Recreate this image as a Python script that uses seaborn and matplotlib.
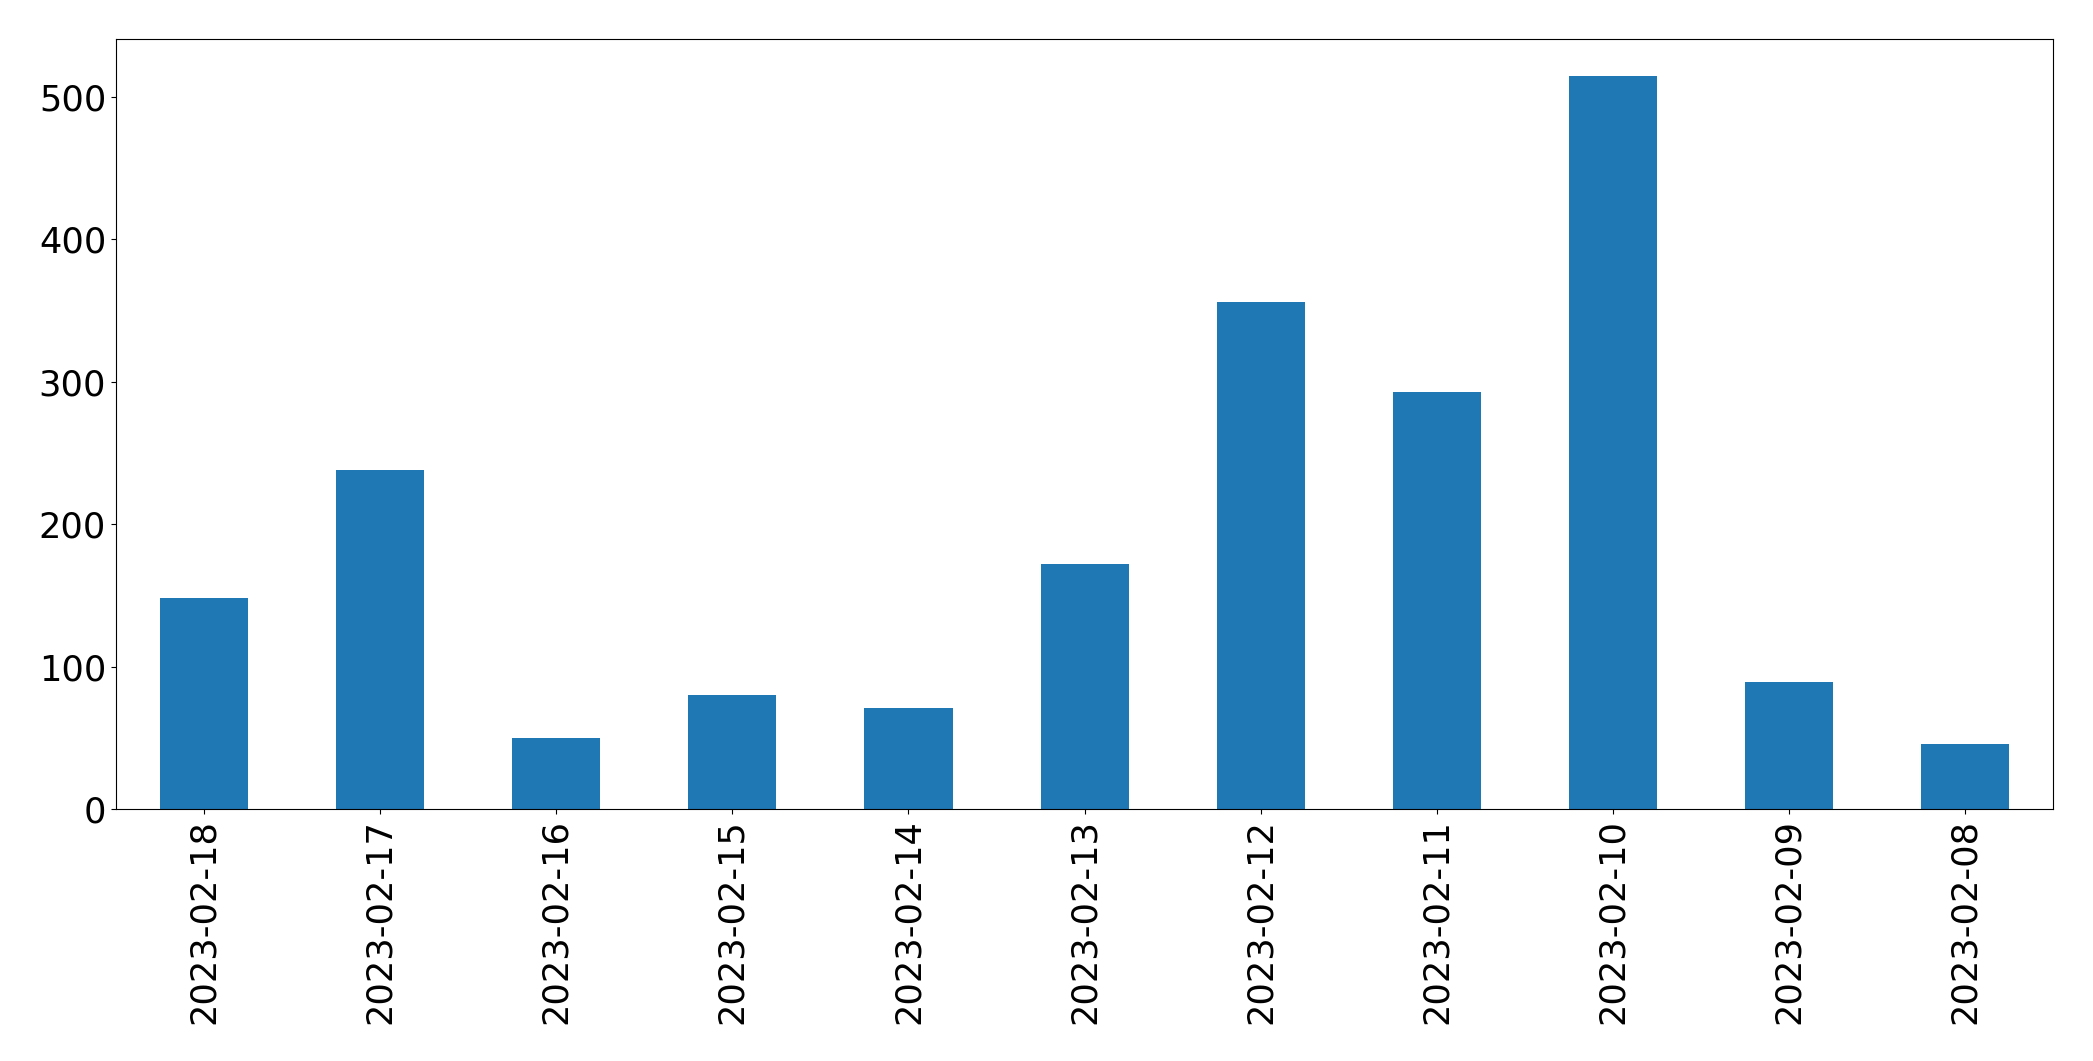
import matplotlib
matplotlib.use("Agg")
import matplotlib.pyplot as plt
import seaborn as sns
from pandas import DataFrame

dates = ["2023-02-18", "2023-02-17", "2023-02-16", "2023-02-15", "2023-02-14", "2023-02-13",
         "2023-02-12", "2023-02-11", "2023-02-10", "2023-02-09", "2023-02-08"]
counts = [148, 238, 50, 80, 71, 172, 356, 293, 515, 89, 46]

df = DataFrame({"date": dates, "count": counts})

fig = plt.figure(figsize=(20.93, 10.61), dpi=100)
ax = fig.add_axes([0.0554, 0.2375, 0.9256, 0.7257])
sns.barplot(data=df, x="date", y="count", order=dates, color="#1f77b4",
            saturation=1, width=0.5, ax=ax)
ax.set_xlabel("")
ax.set_ylabel("")
ax.tick_params(axis="both", labelsize=25.3)
ax.tick_params(axis="x", labelrotation=90)
for s in ax.spines.values():
    s.set_color("black")
ax.set_xlim(-0.5, len(dates) - 0.5)
ax.set_ylim(0, max(counts) * 1.05)
fig.savefig("out.png", dpi=100)
